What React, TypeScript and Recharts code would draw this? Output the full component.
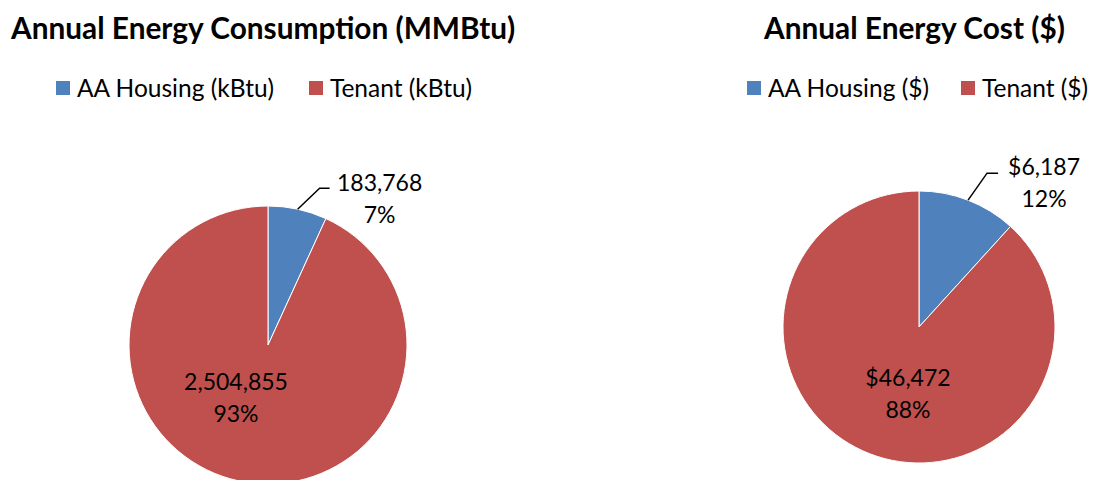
import React from "react";
import { PieChart, Pie, Cell } from "recharts";

const consumptionTitle = "Annual Energy Consumption (MMBtu)";
const consumptionNames = ["AA Housing (kBtu)", "Tenant (kBtu)"];
const consumptionValues = [183768, 2504855];

const costTitle = "Annual Energy Cost ($)";
const costNames = ["AA Housing ($)", "Tenant ($)"];
const costValues = [6187, 46472];

const sliceColors = ["#4F81BD", "#C0504D"];

const FONT = "Lato, 'Open Sans', sans-serif";
const RAD = Math.PI / 180;
const LABEL_SIZE = 23;
const LINE_GAP = 31.5;

const consumptionData = consumptionNames.map((name, i) => ({ name, value: consumptionValues[i] }));
const costData = costNames.map((name, i) => ({ name, value: costValues[i] }));

type LabelCfg = {
  prefix: string;
  elbowDx: number;
  elbowDy: number;
  hLen: number;
  textDx: number;
  textDy: number;
  innerDx: number;
  innerDy: number;
};

const makeLabel = (cfg: LabelCfg) => (props: any) => {
  const { cx, cy, midAngle, outerRadius, value, percent, index } = props;
  const valText = cfg.prefix + Number(value).toLocaleString("en-US");
  const pctText = Math.round(percent * 100) + "%";
  if (index === 0) {
    const sx = cx + Math.cos(-midAngle * RAD) * outerRadius;
    const sy = cy + Math.sin(-midAngle * RAD) * outerRadius;
    const ex = sx + cfg.elbowDx;
    const ey = sy + cfg.elbowDy;
    const hx = ex + cfg.hLen;
    const tx = hx + cfg.textDx;
    const ty = ey + cfg.textDy;
    return (
      <g>
        <polyline points={`${sx},${sy} ${ex},${ey} ${hx},${ey}`} fill="none" stroke="#000" strokeWidth={1.5} />
        <text x={tx} y={ty} textAnchor="middle" dominantBaseline="central" fontFamily={FONT} fontSize={LABEL_SIZE} fill="#000">
          {valText}
        </text>
        <text x={tx} y={ty + LINE_GAP} textAnchor="middle" dominantBaseline="central" fontFamily={FONT} fontSize={LABEL_SIZE} fill="#000">
          {pctText}
        </text>
      </g>
    );
  }
  const tx = cx + cfg.innerDx;
  const ty = cy + cfg.innerDy;
  return (
    <g>
      <text x={tx} y={ty} textAnchor="middle" dominantBaseline="central" fontFamily={FONT} fontSize={LABEL_SIZE} fill="#000">
        {valText}
      </text>
      <text x={tx} y={ty + LINE_GAP} textAnchor="middle" dominantBaseline="central" fontFamily={FONT} fontSize={LABEL_SIZE} fill="#000">
        {pctText}
      </text>
    </g>
  );
};

const Legend = ({ names, left, top, gap }: { names: string[]; left: number; top: number; gap: number }) => (
  <div style={{ position: "absolute", left, top, display: "flex", alignItems: "center", fontFamily: FONT, fontSize: 24.5, color: "#000", whiteSpace: "nowrap" }}>
    {names.map((n, i) => (
      <div key={n} style={{ display: "flex", alignItems: "center", marginRight: i === 0 ? gap : 0 }}>
        <span style={{ display: "inline-block", width: 14, height: 14, background: sliceColors[i], marginRight: 7 }} />
        <span>{n}</span>
      </div>
    ))}
  </div>
);

export default function App() {
  return (
    <div style={{ position: "absolute", left: 0, top: 0, width: 1096, height: 480, background: "#fff", overflow: "hidden" }}>
      <PieChart width={1096} height={480} margin={{ top: 0, right: 0, bottom: 0, left: 0 }}>
        <Pie
          data={consumptionData}
          dataKey="value"
          nameKey="name"
          cx={268}
          cy={345}
          outerRadius={139}
          startAngle={90}
          endAngle={-270}
          stroke="#fff"
          strokeWidth={1}
          isAnimationActive={false}
          labelLine={false}
          label={makeLabel({ prefix: "", elbowDx: 22, elbowDy: -21, hLen: 10, textDx: 50, textDy: -6, innerDx: -32, innerDy: 36 })}
        >
          {consumptionData.map((d, i) => (
            <Cell key={d.name} fill={sliceColors[i]} />
          ))}
        </Pie>
        <Pie
          data={costData}
          dataKey="value"
          nameKey="name"
          cx={919}
          cy={327}
          outerRadius={136}
          startAngle={90}
          endAngle={-270}
          stroke="#fff"
          strokeWidth={1}
          isAnimationActive={false}
          labelLine={false}
          label={makeLabel({ prefix: "$", elbowDx: 19, elbowDy: -27, hLen: 11, textDx: 46, textDy: -7, innerDx: -11, innerDy: 50 })}
        >
          {costData.map((d, i) => (
            <Cell key={d.name} fill={sliceColors[i]} />
          ))}
        </Pie>
      </PieChart>
      <div style={{ position: "absolute", left: 11, top: 10, width: 500, textAlign: "center", fontFamily: FONT, fontWeight: 700, fontSize: 29.8, color: "#000", whiteSpace: "nowrap" }}>
        {consumptionTitle}
      </div>
      <div style={{ position: "absolute", left: 764, top: 10, width: 300, textAlign: "center", fontFamily: FONT, fontWeight: 700, fontSize: 29.8, color: "#000", whiteSpace: "nowrap" }}>
        {costTitle}
      </div>
      <Legend names={consumptionNames} left={56} top={73} gap={35} />
      <Legend names={costNames} left={747} top={73} gap={32} />
    </div>
  );
}
